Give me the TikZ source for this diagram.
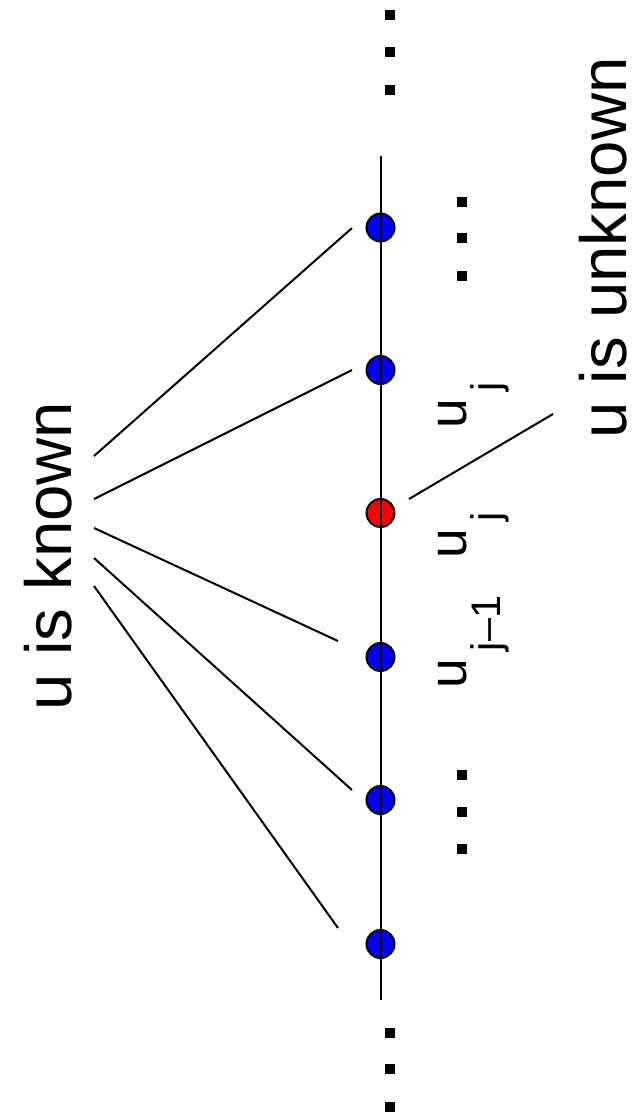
\documentclass[tikz,border=0pt]{standalone}
\usepackage{fontspec}
\setmainfont{Liberation Sans}
% u with a lowered, smaller index
\newcommand{\uindex}[1]{u\hspace{6pt}\raisebox{-26pt}{\fontsize{31}{31}\selectfont #1}}
\begin{document}
\begin{tikzpicture}[x=0.75pt,y=-0.75pt,
  gridpt/.style={circle,draw=black,line width=1.5pt,minimum size=21pt,inner sep=0pt},
  known/.style={gridpt,fill=blue},
  current/.style={gridpt,fill=red},
  dotsq/.style={rectangle,fill=black,minimum size=7.5pt,inner sep=0pt},
  wire/.style={line width=1.5pt},
  bigtext/.style={font=\fontsize{49}{50}\selectfont,rotate=90,inner sep=0pt},
  sublabel/.style={font=\fontsize{40}{40}\selectfont,rotate=90,anchor=base west,inner sep=0pt}]
\useasboundingbox (0,0) rectangle (633,1115);

% grid points
\node[known]   (p1) at (380.5,227.5) {};
\node[known]   (p2) at (380.5,370) {};
\node[current] (p3) at (380.5,513) {};
\node[known]   (p4) at (380.5,657) {};
\node[known]   (p5) at (380.5,800) {};
\node[known]   (p6) at (380.5,944) {};

% axis through the grid points
\coordinate (axtop) at (380.5,156);
\coordinate (axbot) at (380.5,1000);
\draw[wire] (axtop) -- (axbot);

% continuation marks
\node[dotsq] (t1) at (390,15) {};
\node[dotsq] (t2) at (390,51.5) {};
\node[dotsq] (t3) at (390,89.5) {};
\node[dotsq] (b1) at (390,1032.5) {};
\node[dotsq] (b2) at (390,1069) {};
\node[dotsq] (b3) at (390,1107) {};
\node[dotsq] (r1) at (462,201.5) {};
\node[dotsq] (r2) at (462,238) {};
\node[dotsq] (r3) at (462,275.5) {};
\node[dotsq] (s1) at (462,774.5) {};
\node[dotsq] (s2) at (462,811.5) {};
\node[dotsq] (s3) at (462,848.5) {};

% captions
\node[bigtext] (known) at (48,556) {u is known};
\node[bigtext] (unknown) at (603,248) {u is unknown};

% index labels
\node[sublabel] (lm) at (466,689) {\uindex{j–1}};
\node[sublabel] (lj) at (466,559) {\uindex{j}};
\node[sublabel] (lp) at (466,429) {\uindex{j}};

% pointers from the captions
\coordinate (k1s) at (94,456);  \coordinate (k1e) at (352,228);
\coordinate (k2s) at (94,499);  \coordinate (k2e) at (352,370);
\coordinate (k3s) at (94,528);  \coordinate (k3e) at (338,641);
\coordinate (k4s) at (94,558);  \coordinate (k4e) at (352,790);
\coordinate (k5s) at (94,586);  \coordinate (k5e) at (338,928);
\coordinate (us) at (409,499);  \coordinate (ue) at (553,414);
\draw[wire] (k1s) -- (k1e);
\draw[wire] (k2s) -- (k2e);
\draw[wire] (k3s) -- (k3e);
\draw[wire] (k4s) -- (k4e);
\draw[wire] (k5s) -- (k5e);
\draw[wire] (us) -- (ue);
\end{tikzpicture}
\end{document}
